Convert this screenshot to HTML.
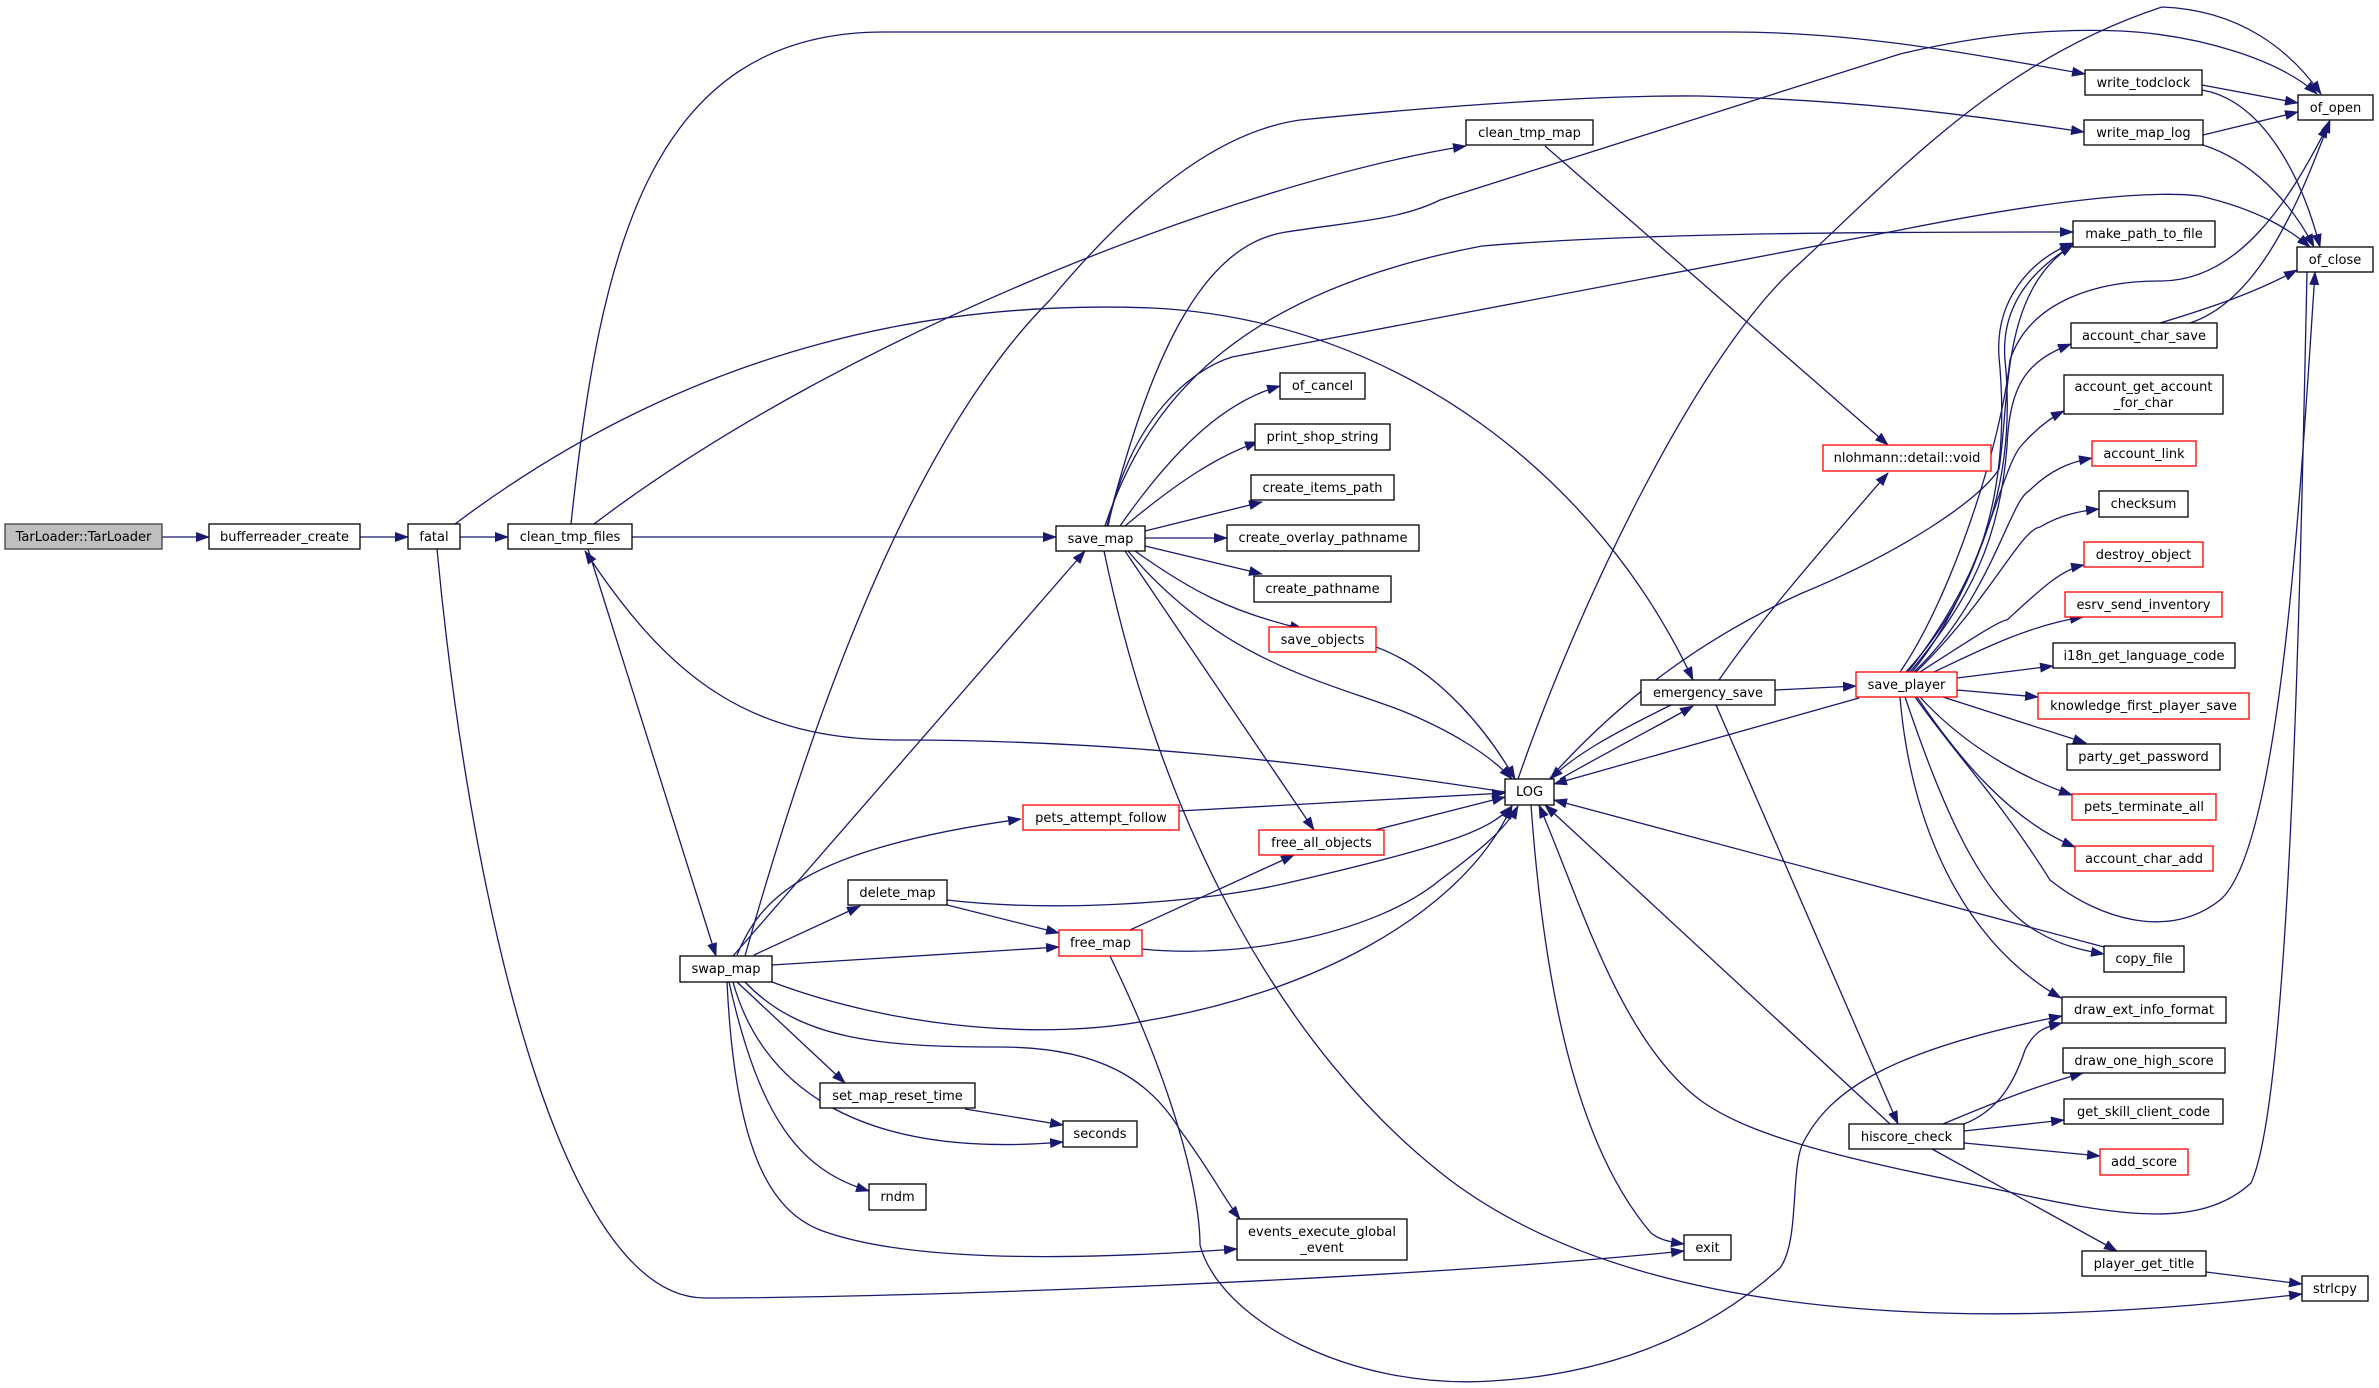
<!DOCTYPE html>
<html><head><meta charset="utf-8"><style>
html,body{margin:0;padding:0;background:#fff;}
svg{display:block;}
text{font-family:"DejaVu Sans","Liberation Sans",sans-serif;font-size:13px;fill:#000;}
</style></head><body>
<svg width="2379" height="1388" viewBox="0 0 2379 1388" xmlns="http://www.w3.org/2000/svg">
<defs>
<marker id="a" markerUnits="userSpaceOnUse" markerWidth="14" markerHeight="10" refX="13" refY="5" orient="auto">
<path d="M0,0 L14,5 L0,10 z" fill="#191970"/>
</marker>
</defs>
<g fill="none" stroke="#191970" stroke-width="1.3" marker-end="url(#a)">
<path d="M162,537 L209,537"/>
<path d="M360,537 L408,537"/>
<path d="M460,537 L508,537"/>
<path d="M455,524 C 700,340 950,300 1152,308 C 1400,320 1600,480 1693,680"/>
<path d="M571,524 C 600,250 650,32 884,32 L1732,32 C 1850,32 1950,50 2085,74"/>
<path d="M594,524 C 850,330 1250,180 1466,146"/>
<path d="M632,537 L1056,537"/>
<path d="M588,549 L716,956"/>
<path d="M1505,792 C 1300,760 1100,740 900,740 C 750,740 670,680 585,551"/>
<path d="M437,549 C 470,900 560,1298 705,1298 C 900,1298 1400,1280 1684,1251"/>
<path d="M1120,526 C 1180,440 1230,400 1280,386"/>
<path d="M1125,526 C 1180,480 1220,455 1258,442"/>
<path d="M1145,531 L1262,502"/>
<path d="M1145,538 L1227,538"/>
<path d="M1145,546 L1262,574"/>
<path d="M1135,551 C 1190,590 1230,612 1303,629"/>
<path d="M1128,551 C 1220,660 1320,680 1400,710 C 1450,730 1490,755 1512,779"/>
<path d="M1125,551 L1314,830"/>
<path d="M1104,551 C 1160,820 1280,1050 1450,1180 C 1650,1330 2000,1330 2302,1294"/>
<path d="M1107,526 C 1150,360 1200,245 1286,232 C 1350,222 1400,220 1440,200 L1900,54 C 1980,35 2050,28 2121,31 C 2200,35 2280,60 2317,94"/>
<path d="M1108,526 C 1130,420 1190,370 1232,357 L1900,230 C 2050,200 2150,190 2200,196 C 2260,210 2290,230 2310,247"/>
<path d="M1105,526 C 1150,390 1250,290 1482,246 C 1650,232 1900,232 2073,232"/>
<path d="M745,956 C 800,760 900,450 1050,300 C 1150,180 1230,130 1300,120 C 1450,105 1600,95 1700,96 C 1850,100 1950,112 2084,132"/>
<path d="M1545,146 L1888,445"/>
<path d="M1518,779 C 1580,600 1700,350 1800,263 C 1900,170 2000,60 2162,7 C 2240,10 2290,50 2321,94"/>
<path d="M1550,778 C 1620,700 1700,640 1800,594 C 1900,553 1980,500 1999,469 C 2010,400 2000,290 2073,245"/>
<path d="M2202,85 L2298,103"/>
<path d="M2202,90 C 2260,100 2300,170 2320,247"/>
<path d="M2203,135 L2298,112"/>
<path d="M2203,145 C 2250,160 2290,200 2314,247"/>
<path d="M2160,323 C 2220,305 2260,290 2297,270"/>
<path d="M2190,323 C 2260,300 2300,200 2330,120"/>
<path d="M733,956 L1085,551"/>
<path d="M737,955 C 760,900 800,850 1021,819"/>
<path d="M754,955 L860,906"/>
<path d="M772,965 L1059,947"/>
<path d="M772,982 C 900,1030 1050,1040 1150,1020 C 1300,995 1460,920 1512,806"/>
<path d="M745,982 C 800,1040 880,1047 1000,1047 C 1100,1047 1150,1080 1180,1130 C 1210,1170 1225,1200 1240,1219"/>
<path d="M727,982 C 735,1150 770,1210 820,1230 C 900,1260 1050,1262 1237,1249"/>
<path d="M737,982 L845,1083"/>
<path d="M733,982 C 760,1080 850,1160 1063,1142"/>
<path d="M965,1109 L1063,1125"/>
<path d="M729,982 C 760,1120 800,1170 869,1191"/>
<path d="M947,900 C 1050,912 1200,905 1300,880 C 1450,845 1490,830 1512,806"/>
<path d="M947,905 L1059,933"/>
<path d="M1130,930 L1294,855"/>
<path d="M1142,949 C 1250,960 1380,930 1440,880 C 1480,850 1505,830 1518,806"/>
<path d="M1375,830 L1505,797"/>
<path d="M1179,811 L1505,793"/>
<path d="M1376,647 C 1440,670 1490,735 1515,779"/>
<path d="M1110,956 C 1180,1100 1200,1200 1200,1245 C 1220,1320 1350,1390 1491,1381 C 1600,1375 1700,1340 1780,1268 C 1800,1240 1790,1170 1803,1143 C 1830,1090 1890,1050 2062,1016"/>
<path d="M1531,805 C 1545,1000 1580,1150 1651,1233 C 1660,1240 1670,1242 1684,1244"/>
<path d="M1775,690 L1856,686"/>
<path d="M1859,698 L1554,784"/>
<path d="M1671,705 C 1610,735 1575,755 1550,779"/>
<path d="M1560,779 C 1620,745 1660,725 1693,706"/>
<path d="M1719,680 C 1760,620 1830,540 1888,473"/>
<path d="M1716,705 L1898,1124"/>
<path d="M1890,1124 L1545,805"/>
<path d="M2307,272 C 2300,600 2290,1100 2251,1183 C 2200,1230 2117,1216 2000,1190 C 1850,1160 1752,1138 1700,1100 C 1620,1040 1580,900 1539,805"/>
<path d="M2104,947 L1554,800"/>
<path d="M1905,697 C 1940,800 1980,900 2038,932 C 2060,945 2080,950 2104,954"/>
<path d="M1900,697 C 1910,820 1960,940 2061,998"/>
<path d="M1920,697 C 1950,730 2000,770 2072,795"/>
<path d="M1917,697 C 1960,760 2010,820 2075,847"/>
<path d="M1957,690 L2038,697"/>
<path d="M1957,678 L2053,666"/>
<path d="M1943,697 L2086,743"/>
<path d="M1934,672 C 1980,650 2030,625 2083,617"/>
<path d="M1915,697 C 1960,760 2000,800 2050,880 C 2100,920 2170,940 2220,900 C 2280,850 2300,500 2315,272"/>
<path d="M1910,672 C 1970,600 2000,540 2007,446 C 2010,380 2030,360 2071,344"/>
<path d="M1912,672 C 1980,590 2000,470 2021,446 C 2035,430 2050,418 2064,411"/>
<path d="M1914,672 C 1990,600 2010,500 2029,491 C 2050,470 2070,462 2092,458"/>
<path d="M1916,672 C 1990,600 2020,530 2040,527 C 2060,515 2080,511 2099,509"/>
<path d="M1920,672 C 1970,640 2000,620 2007,620 C 2040,590 2060,570 2084,565"/>
<path d="M1906,672 C 1990,580 2010,470 1999,357 C 1995,300 2030,260 2073,243"/>
<path d="M1908,672 C 1995,560 2015,460 2005,360 C 2000,300 2040,265 2073,245"/>
<path d="M1900,672 C 1950,600 2000,450 2010,360 C 2030,300 2100,280 2162,281 C 2240,280 2290,200 2328,125"/>
<path d="M1964,1124 C 2000,1110 2015,1080 2025,1050 C 2035,1030 2045,1027 2062,1023"/>
<path d="M1943,1124 C 2000,1100 2040,1085 2083,1073"/>
<path d="M1964,1131 L2064,1120"/>
<path d="M1964,1143 L2100,1156"/>
<path d="M1932,1149 L2117,1251"/>
<path d="M2206,1272 L2302,1284"/>
</g>
<g stroke-width="1.3">
<rect x="5" y="524" width="157" height="25" fill="#bfbfbf" stroke="#404040"/>
<g fill="#fff" stroke="#000">
<rect x="209" y="524" width="151" height="25"/>
<rect x="408" y="524" width="52" height="25"/>
<rect x="508" y="524" width="124" height="25"/>
<rect x="1056" y="526" width="89" height="25"/>
<rect x="1466" y="120" width="127" height="25"/>
<rect x="1280" y="373" width="85" height="26"/>
<rect x="1255" y="424" width="135" height="26"/>
<rect x="1251" y="475" width="143" height="25"/>
<rect x="1227" y="525" width="192" height="26"/>
<rect x="1254" y="576" width="137" height="26"/>
<rect x="1505" y="779" width="49" height="26"/>
<rect x="1641" y="680" width="134" height="25"/>
<rect x="2085" y="70" width="117" height="25"/>
<rect x="2298" y="95" width="75" height="25"/>
<rect x="2084" y="120" width="119" height="25"/>
<rect x="2073" y="221" width="142" height="26"/>
<rect x="2297" y="247" width="76" height="25"/>
<rect x="2071" y="323" width="146" height="25"/>
<rect x="2064" y="375" width="159" height="39"/>
<rect x="2099" y="491" width="89" height="26"/>
<rect x="2053" y="643" width="182" height="25"/>
<rect x="2067" y="744" width="153" height="26"/>
<rect x="2104" y="946" width="80" height="26"/>
<rect x="2062" y="997" width="164" height="26"/>
<rect x="2063" y="1048" width="162" height="25"/>
<rect x="2064" y="1099" width="159" height="25"/>
<rect x="1849" y="1124" width="115" height="25"/>
<rect x="2082" y="1251" width="124" height="25"/>
<rect x="2302" y="1276" width="66" height="25"/>
<rect x="1684" y="1235" width="47" height="25"/>
<rect x="1237" y="1219" width="170" height="41"/>
<rect x="869" y="1184" width="57" height="26"/>
<rect x="1063" y="1121" width="74" height="26"/>
<rect x="820" y="1083" width="155" height="25"/>
<rect x="848" y="880" width="99" height="25"/>
<rect x="680" y="956" width="92" height="26"/>
</g>
<g fill="#fff" stroke="#ff0000">
<rect x="1269" y="627" width="107" height="25"/>
<rect x="1023" y="805" width="156" height="25"/>
<rect x="1259" y="830" width="125" height="25"/>
<rect x="1823" y="445" width="168" height="26"/>
<rect x="2092" y="441" width="104" height="25"/>
<rect x="2084" y="542" width="119" height="25"/>
<rect x="2065" y="592" width="157" height="25"/>
<rect x="1856" y="672" width="101" height="25"/>
<rect x="2038" y="693" width="211" height="26"/>
<rect x="2072" y="794" width="144" height="26"/>
<rect x="2075" y="846" width="138" height="25"/>
<rect x="2100" y="1149" width="88" height="26"/>
<rect x="1059" y="930" width="83" height="26"/>
</g>
</g>
<g text-anchor="middle">
<text x="83.5" y="541">TarLoader::TarLoader</text>
<text x="284.5" y="541">bufferreader_create</text>
<text x="434" y="541">fatal</text>
<text x="570" y="541">clean_tmp_files</text>
<text x="1100.5" y="543">save_map</text>
<text x="1529.5" y="137">clean_tmp_map</text>
<text x="1322.5" y="390">of_cancel</text>
<text x="1322.5" y="441">print_shop_string</text>
<text x="1322.5" y="492">create_items_path</text>
<text x="1323" y="542">create_overlay_pathname</text>
<text x="1322.5" y="593">create_pathname</text>
<text x="1322.5" y="644">save_objects</text>
<text x="1529.5" y="796">LOG</text>
<text x="1101" y="822">pets_attempt_follow</text>
<text x="1321.5" y="847">free_all_objects</text>
<text x="1708" y="697">emergency_save</text>
<text x="2143.5" y="87">write_todclock</text>
<text x="2335.5" y="112">of_open</text>
<text x="2143.5" y="137">write_map_log</text>
<text x="2144" y="238">make_path_to_file</text>
<text x="2335" y="264">of_close</text>
<text x="2144" y="340">account_char_save</text>
<text x="2143.5" y="391">account_get_account</text>
<text x="2143.5" y="407">_for_char</text>
<text x="1907" y="462">nlohmann::detail::void</text>
<text x="2144" y="458">account_link</text>
<text x="2143.5" y="508">checksum</text>
<text x="2143.5" y="559">destroy_object</text>
<text x="2143.5" y="609">esrv_send_inventory</text>
<text x="2144" y="660">i18n_get_language_code</text>
<text x="1906.5" y="689">save_player</text>
<text x="2143.5" y="710">knowledge_first_player_save</text>
<text x="2143.5" y="761">party_get_password</text>
<text x="2144" y="811">pets_terminate_all</text>
<text x="2144" y="863">account_char_add</text>
<text x="2144" y="963">copy_file</text>
<text x="2144" y="1014">draw_ext_info_format</text>
<text x="2144" y="1065">draw_one_high_score</text>
<text x="2143.5" y="1116">get_skill_client_code</text>
<text x="2144" y="1166">add_score</text>
<text x="1906.5" y="1141">hiscore_check</text>
<text x="2144" y="1268">player_get_title</text>
<text x="2335" y="1293">strlcpy</text>
<text x="1707.5" y="1252">exit</text>
<text x="1322" y="1236">events_execute_global</text>
<text x="1322" y="1252">_event</text>
<text x="897.5" y="1201">rndm</text>
<text x="1100" y="1138">seconds</text>
<text x="897.5" y="1100">set_map_reset_time</text>
<text x="897.5" y="897">delete_map</text>
<text x="726" y="973">swap_map</text>
<text x="1100.5" y="947">free_map</text>
</g>
</svg>
</body></html>
